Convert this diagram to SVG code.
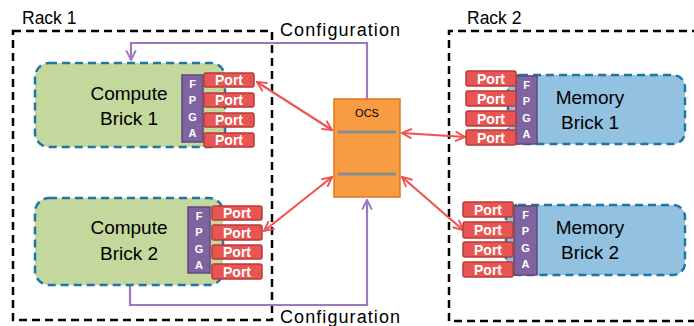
<svg xmlns="http://www.w3.org/2000/svg" width="694" height="326" viewBox="0 0 694 326">
<style>
.rack{fill:none;stroke:#000;stroke-width:2.5;stroke-dasharray:8 5}
.brick{stroke:#1f75a6;stroke-width:2.5;stroke-dasharray:8 5}
.cb{fill:#c4d79c}
.mb{fill:#93c1e0}
.fpga{fill:#8064a2;stroke:#5e4a7a;stroke-width:1.5}
.port{fill:#e85552;stroke:#b93b3a;stroke-width:1.5}
.t{font-family:"Liberation Sans",Arial,sans-serif;fill:#000}
.pt{font-family:"Liberation Sans",Arial,sans-serif;font-weight:bold;font-size:14px;fill:#fff;text-anchor:middle}
.ft{font-family:"Liberation Sans",Arial,sans-serif;font-weight:bold;font-size:11px;fill:#fff;text-anchor:middle}
.red{fill:none;stroke:#ef5350;stroke-width:2.2;marker-start:url(#ra);marker-end:url(#ra)}
.purple{fill:none;stroke:#9b7bbd;stroke-width:2.2}
</style>
<defs>
<marker id="ra" viewBox="0 0 10 10" refX="9" refY="5" markerWidth="5.5" markerHeight="5.5" orient="auto-start-reverse" markerUnits="strokeWidth">
<path d="M1,1 L9,5 L1,9" fill="none" stroke="#ef5350" stroke-width="1.6"/>
</marker>
<marker id="pa" viewBox="0 0 10 10" refX="9" refY="5" markerWidth="5.5" markerHeight="5.5" orient="auto" markerUnits="strokeWidth">
<path d="M1,1 L9,5 L1,9" fill="none" stroke="#9b7bbd" stroke-width="1.6"/>
</marker>
</defs>
<rect width="694" height="326" fill="#fff"/>

<g id="rack1">
<rect class="rack" x="13" y="31" width="259" height="289"/>
<text class="t" x="22" y="24" font-size="17.5">Rack 1</text>
</g>
<g id="rack2">
<path class="rack" d="M700,31 H449 V321 H700"/>
<text class="t" x="467" y="24" font-size="17.5">Rack 2</text>
</g>

<g id="connectors">
<path class="purple" d="M367,99 V43 H131 V60" marker-end="url(#pa)"/>
<path class="purple" d="M130,286 V305 H367 V200" marker-end="url(#pa)"/>
<line class="red" x1="257" y1="82" x2="332" y2="130"/>
<line class="red" x1="264" y1="231" x2="332" y2="177"/>
<line class="red" x1="402" y1="133" x2="465" y2="137"/>
<line class="red" x1="402" y1="177" x2="463" y2="230"/>
<text class="t" x="280" y="36" font-size="18" textLength="120">Configuration</text>
<text class="t" x="280" y="323" font-size="18" textLength="120">Configuration</text>
</g>

<g id="ocs">
<rect x="334" y="99" width="66" height="98" fill="#f79c42" stroke="#e3761c" stroke-width="1.5"/>
<text class="t" x="367" y="117" font-size="11" text-anchor="middle" fill="#222">OCS</text>
<line x1="338" y1="132" x2="396" y2="132" stroke="#8c8c8c" stroke-width="3"/>
<line x1="338" y1="174" x2="396" y2="174" stroke="#8c8c8c" stroke-width="3"/>
</g>

<g id="compute1">
<rect class="brick cb" x="35" y="63" width="190" height="84" rx="14"/>
<text class="t" x="129" y="100" font-size="19" text-anchor="middle">Compute</text>
<text class="t" x="129" y="125" font-size="19" text-anchor="middle">Brick 1</text>
<rect class="fpga" x="182" y="75" width="21" height="67"/>
<text class="ft" x="192.5" y="88">F</text><text class="ft" x="192.5" y="104">P</text><text class="ft" x="192.5" y="121">G</text><text class="ft" x="192.5" y="137">A</text>
<rect class="port" x="204" y="73" width="50" height="14" rx="2"/><text class="pt" x="229" y="85">Port</text>
<rect class="port" x="204" y="93" width="50" height="14" rx="2"/><text class="pt" x="229" y="105">Port</text>
<rect class="port" x="204" y="113" width="50" height="14" rx="2"/><text class="pt" x="229" y="125">Port</text>
<rect class="port" x="204" y="133" width="50" height="14" rx="2"/><text class="pt" x="229" y="145">Port</text>
</g>

<g id="compute2">
<rect class="brick cb" x="35" y="198" width="188" height="87" rx="14"/>
<text class="t" x="129" y="234" font-size="19" text-anchor="middle">Compute</text>
<text class="t" x="129" y="260" font-size="19" text-anchor="middle">Brick 2</text>
<rect class="fpga" x="188" y="207" width="22" height="66"/>
<text class="ft" x="199" y="220">F</text><text class="ft" x="199" y="236">P</text><text class="ft" x="199" y="253">G</text><text class="ft" x="199" y="269">A</text>
<rect class="port" x="212" y="206" width="50" height="14" rx="2"/><text class="pt" x="237" y="218">Port</text>
<rect class="port" x="212" y="225" width="50" height="15" rx="2"/><text class="pt" x="237" y="238">Port</text>
<rect class="port" x="212" y="245" width="50" height="14" rx="2"/><text class="pt" x="237" y="257">Port</text>
<rect class="port" x="212" y="264" width="50" height="15" rx="2"/><text class="pt" x="237" y="277">Port</text>
</g>

<g id="memory1">
<rect class="brick mb" x="508" y="75" width="177" height="69" rx="12"/>
<text class="t" x="590" y="104" font-size="19" text-anchor="middle">Memory</text>
<text class="t" x="590" y="129" font-size="19" text-anchor="middle">Brick 1</text>
<rect class="fpga" x="516" y="76" width="21" height="68"/>
<text class="ft" x="526.5" y="89">F</text><text class="ft" x="526.5" y="105">P</text><text class="ft" x="526.5" y="122">G</text><text class="ft" x="526.5" y="138">A</text>
<rect class="port" x="466" y="71" width="50" height="15" rx="2"/><text class="pt" x="491" y="84">Port</text>
<rect class="port" x="466" y="91" width="50" height="15" rx="2"/><text class="pt" x="491" y="104">Port</text>
<rect class="port" x="466" y="111" width="50" height="15" rx="2"/><text class="pt" x="491" y="124">Port</text>
<rect class="port" x="466" y="130" width="50" height="15" rx="2"/><text class="pt" x="491" y="143">Port</text>
</g>

<g id="memory2">
<rect class="brick mb" x="506" y="205" width="179" height="70" rx="12"/>
<text class="t" x="590" y="234" font-size="19" text-anchor="middle">Memory</text>
<text class="t" x="590" y="259" font-size="19" text-anchor="middle">Brick 2</text>
<rect class="fpga" x="514" y="206" width="23" height="69"/>
<text class="ft" x="525.5" y="219">F</text><text class="ft" x="525.5" y="235">P</text><text class="ft" x="525.5" y="252">G</text><text class="ft" x="525.5" y="268">A</text>
<rect class="port" x="463" y="202" width="50" height="15" rx="2"/><text class="pt" x="488" y="215">Port</text>
<rect class="port" x="463" y="222" width="50" height="16" rx="2"/><text class="pt" x="488" y="235">Port</text>
<rect class="port" x="463" y="242" width="50" height="15" rx="2"/><text class="pt" x="488" y="255">Port</text>
<rect class="port" x="463" y="262" width="50" height="15" rx="2"/><text class="pt" x="488" y="275">Port</text>
</g>
</svg>
